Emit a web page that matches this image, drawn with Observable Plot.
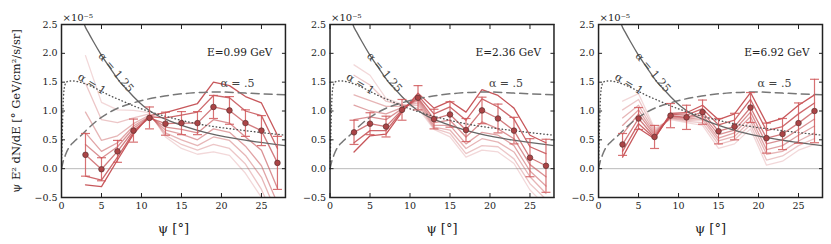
<!DOCTYPE html>
<html><head><meta charset="utf-8">
<script src="https://cdn.jsdelivr.net/npm/d3@7"></script>
<script src="https://cdn.jsdelivr.net/npm/@observablehq/plot@0.6"></script>
<style>
body{margin:0;background:#fff;}
#chart{width:831px;height:244px;}
</style>
</head><body><div id="chart"></div>
<script>
// ---------- data ----------
const psi = [3,5,7,9,11,13,15,17,19,21,23,25,27];
const panels = ["E=0.99 GeV", "E=2.36 GeV", "E=6.92 GeV"];

const val099 = [0.24, -0.01, 0.30, 0.66, 0.88, 0.78, 0.79, 0.79, 1.07, 1.01, 0.79, 0.66, 0.10];
const err099 = [0.37, 0.20, 0.19, 0.20, 0.19, 0.20, 0.20, 0.20, 0.20, 0.24, 0.23, 0.26, 0.46];
const val236 = [0.63, 0.78, 0.73, 1.02, 1.23, 0.86, 0.94, 0.67, 1.01, 0.87, 0.66, 0.19, 0.05];
const err236 = [0.21, 0.19, 0.18, 0.18, 0.21, 0.17, 0.22, 0.20, 0.23, 0.25, 0.23, 0.33, 0.46];
const val692 = [0.42, 0.87, 0.55, 0.92, 0.89, 0.98, 0.65, 0.73, 1.06, 0.53, 0.60, 0.79, 1.00];
const err692 = [0.19, 0.19, 0.20, 0.21, 0.21, 0.21, 0.22, 0.23, 0.26, 0.26, 0.27, 0.35, 0.55];

const lines099 = [
  [1.96, 1.15, 1.02, 1.01, 0.97, 0.55, 0.35, 0.25, 0.29, 0.23, -0.08, -0.50, -1.20],
  [1.48, 0.85, 0.80, 0.88, 0.95, 0.58, 0.42, 0.32, 0.42, 0.35, 0.08, -0.36, -1.00],
  [0.98, 0.49, 0.57, 0.78, 0.93, 0.62, 0.50, 0.40, 0.55, 0.49, 0.23, -0.15, -0.80],
  [0.62, 0.30, 0.45, 0.74, 0.91, 0.67, 0.60, 0.50, 0.69, 0.63, 0.39, 0.05, -0.60],
  [0.42, 0.18, 0.38, 0.70, 0.90, 0.72, 0.68, 0.62, 0.85, 0.79, 0.55, 0.32, -0.34],
  val099,
  [-0.13, -0.20, 0.20, 0.63, 0.90, 0.88, 0.93, 0.98, 1.27, 1.23, 1.00, 0.92, 0.35],
  [-0.28, -0.31, 0.15, 0.60, 0.92, 0.97, 1.05, 1.13, 1.50, 1.44, 1.25, 1.14, 0.58]
];
const lines236 = [
  [1.80, 1.62, 1.22, 1.12, 1.05, 0.68, 0.55, 0.20, 0.32, 0.29, 0.09, -0.37, -0.65],
  [1.62, 1.45, 1.17, 1.10, 1.10, 0.70, 0.61, 0.26, 0.40, 0.38, 0.17, -0.26, -0.53],
  [1.28, 1.18, 1.08, 1.08, 1.14, 0.72, 0.67, 0.35, 0.52, 0.46, 0.29, -0.14, -0.43],
  [1.10, 1.00, 0.95, 1.06, 1.18, 0.75, 0.75, 0.43, 0.63, 0.58, 0.40, -0.04, -0.30],
  [0.85, 0.90, 0.85, 1.04, 1.21, 0.80, 0.84, 0.55, 0.81, 0.69, 0.52, 0.07, -0.14],
  val236,
  [0.45, 0.66, 0.66, 1.00, 1.27, 0.95, 1.07, 0.84, 1.21, 1.07, 0.86, 0.38, 0.26],
  [0.29, 0.57, 0.60, 0.98, 1.31, 1.05, 1.17, 0.98, 1.37, 1.27, 1.05, 0.58, 0.45]
];
const lines692 = [
  [1.17, 1.30, 0.70, 0.85, 0.80, 0.75, 0.35, 0.43, 0.69, 0.06, 0.13, 0.32, 0.42],
  [1.02, 1.20, 0.67, 0.87, 0.82, 0.80, 0.42, 0.50, 0.76, 0.15, 0.22, 0.40, 0.52],
  [0.88, 1.10, 0.64, 0.88, 0.84, 0.85, 0.48, 0.56, 0.83, 0.25, 0.30, 0.48, 0.62],
  [0.75, 1.02, 0.61, 0.90, 0.86, 0.89, 0.53, 0.62, 0.90, 0.33, 0.40, 0.58, 0.74],
  [0.60, 0.95, 0.58, 0.91, 0.88, 0.93, 0.59, 0.67, 0.98, 0.43, 0.50, 0.68, 0.86],
  val692,
  [0.30, 0.78, 0.53, 0.94, 0.93, 1.04, 0.76, 0.84, 1.20, 0.66, 0.73, 0.95, 1.14],
  [0.20, 0.70, 0.52, 0.96, 0.97, 1.10, 0.85, 0.95, 1.32, 0.79, 0.87, 1.10, 1.28]
];
const lineOpacity = [0.22, 0.32, 0.42, 0.52, 0.62, 0.74, 0.85, 0.95];

// model curves (same in every panel)
const solidPsi = [2.7, 2.86, 3.4, 4.0, 4.85, 6.1, 7.26, 8.2, 9.2, 10.2, 11.07, 12.3, 13.5, 17.7, 21.8, 28];
const solidVal = [2.58, 2.50, 2.35, 2.20, 2.00, 1.74, 1.51, 1.37, 1.22, 1.09, 1.00, 0.90, 0.83, 0.64, 0.52, 0.40];
const dottedPsi = [0, 0.1, 0.2, 0.35, 0.6, 1.0, 1.5, 2.0, 3.0, 4.0, 5.0, 6.0, 7.5, 9.0, 11.0, 13.5, 17.7, 21.8, 28];
const dottedVal = [0, 0.6, 1.1, 1.4, 1.5, 1.52, 1.52, 1.51, 1.47, 1.41, 1.34, 1.27, 1.18, 1.09, 0.99, 0.89, 0.76, 0.68, 0.58];
const dashedPsi = [0, 0.2, 0.5, 0.9, 1.5, 2.4, 3.2, 4.5, 6.3, 9.2, 12.9, 16, 19.5, 23, 28];
const dashedVal = [0, 0.12, 0.24, 0.36, 0.46, 0.57, 0.68, 0.84, 1.0, 1.15, 1.26, 1.31, 1.33, 1.31, 1.28];

const curveLabels = ["α = 1.25", "α = 1", "α = .5"];
const labelPsi = [6.8, 3.8, 22.0];
const labelVal = [1.67, 1.47, 1.47];
const labelAngle = [50, 32, 0];

const xTicks = [0, 5, 10, 15, 20, 25];
const yTicks = [-0.5, 0, 0.5, 1, 1.5, 2, 2.5];
const yMid = 1.0;
const yLabel = "ψ E² dN/dE [° GeV/cm²/s/sr]";
const xLabel = "ψ [°]";
const multiplier = "×10⁻⁵";

// ---------- tables ----------
const vals = [val099, val236, val692];
const errs = [err099, err236, err692];
const lineSets = [lines099, lines236, lines692];
const pointsData = panels.flatMap((p, i) => psi.map((x, j) => ({panel: p, psi: x, val: vals[i][j], err: errs[i][j]})));
const linesData = panels.flatMap((p, i) => lineSets[i].flatMap((arr, k) => arr.map((v, j) => ({panel: p, k, psi: psi[j], val: v}))));
const toRows = (xs, ys) => xs.map((x, i) => ({psi: x, val: ys[i]}));

const capSymbol = {draw(ctx, size) { const w = Math.sqrt(size / Math.PI); ctx.moveTo(-w, 0); ctx.lineTo(w, 0); }};
const fmtY = d => d.toFixed(1).replace("-", "\u2212");
const red = "#c44e52";
const serif = "DejaVu Serif, Liberation Serif, serif";

const chart = Plot.plot({
  width: 831, height: 244,
  marginLeft: 61, marginRight: 9, marginTop: 24, marginBottom: 47,
  style: {fontFamily: serif, fontSize: "9.5px", background: "white", color: "#222"},
  x: {domain: [0, 28], label: null},
  y: {domain: [-0.5, 2.5], label: null},
  fx: {domain: panels, axis: null, paddingInner: 0.166, paddingOuter: 0, round: false, label: null},
  marks: [
    Plot.ruleY([0], {stroke: "#bbb", strokeWidth: 1}),
    ...lineOpacity.map((o, k) => Plot.line(linesData.filter(d => d.k === k), {
      fx: "panel", x: "psi", y: "val", stroke: red, strokeOpacity: o, strokeWidth: 1.3, clip: true
    })),
    Plot.line(toRows(dashedPsi, dashedVal), {x: "psi", y: "val", stroke: "#777", strokeWidth: 1.5, strokeDasharray: "8,5", curve: "monotone-x", clip: true}),
    Plot.line(toRows(dottedPsi, dottedVal), {x: "psi", y: "val", stroke: "#555", strokeWidth: 1.4, strokeDasharray: "0.5,3", strokeLinecap: "round", curve: "monotone-x", clip: true}),
    Plot.line(toRows(solidPsi, solidVal), {x: "psi", y: "val", stroke: "#666", strokeWidth: 1.3, curve: "monotone-x", clip: true}),
    ...curveLabels.map((t, i) => Plot.text([t], {x: () => labelPsi[i], y: () => labelVal[i], text: d => d, rotate: labelAngle[i], fontSize: 11, fill: "#444"})),
    Plot.ruleX(pointsData, {fx: "panel", x: "psi", y1: d => d.val - d.err, y2: d => d.val + d.err, stroke: "#d0585b", strokeOpacity: 0.85, strokeWidth: 1.2}),
    Plot.dot(pointsData, {fx: "panel", x: "psi", y: d => d.val - d.err, symbol: capSymbol, r: 4.5, stroke: "#d0585b", strokeOpacity: 0.85, strokeWidth: 1.2, fill: "none"}),
    Plot.dot(pointsData, {fx: "panel", x: "psi", y: d => d.val + d.err, symbol: capSymbol, r: 4.5, stroke: "#d0585b", strokeOpacity: 0.85, strokeWidth: 1.2, fill: "none"}),
    Plot.dot(pointsData, {fx: "panel", x: "psi", y: "val", r: 2.8, fill: "#ab4446", stroke: "#5b3030", strokeWidth: 0.7}),
    // axes: labels
    Plot.axisY({ticks: yTicks, anchor: "left", tickSize: 0, tickPadding: 4, tickFormat: fmtY, label: null, facetAnchor: null}),
    Plot.axisX({ticks: xTicks, anchor: "bottom", tickSize: 0, tickPadding: 5, label: null, facetAnchor: null}),
    // axes: inward ticks
    Plot.axisY({ticks: yTicks, anchor: "left", tickSize: -4, fill: "none", stroke: "#222", label: null, facetAnchor: null}),
    Plot.axisY({ticks: yTicks, anchor: "right", tickSize: -4, fill: "none", stroke: "#222", label: null, facetAnchor: null}),
    Plot.axisX({ticks: xTicks, anchor: "bottom", tickSize: -4, fill: "none", stroke: "#222", label: null, facetAnchor: null}),
    Plot.axisX({ticks: xTicks, anchor: "top", tickSize: -4, fill: "none", stroke: "#222", label: null, facetAnchor: null}),
    Plot.frame({stroke: "#222", strokeWidth: 1.5}),
    // texts
    Plot.text(panels, {fx: d => d, text: d => d, frameAnchor: "top-right", dx: -13, dy: 28, textAnchor: "end", lineAnchor: "middle", fontSize: 10.5, fill: "#222"}),
    Plot.text(panels, {fx: d => d, text: () => multiplier, frameAnchor: "top-left", dy: -7, dx: 1, textAnchor: "start", lineAnchor: "middle", fontSize: 10, fill: "#222"}),
    Plot.text(panels, {fx: d => d, text: () => xLabel, frameAnchor: "bottom", dy: 31, textAnchor: "middle", lineAnchor: "middle", fontSize: 13, fill: "#222"}),
    Plot.text([yLabel], {fx: () => panels[0], y: () => yMid, text: d => d, frameAnchor: "left", textAnchor: "middle", lineAnchor: "middle", dx: -45, rotate: -90, fontSize: 11.5, fill: "#222"})
  ]
});
document.getElementById("chart").appendChild(chart);
</script>
</body></html>
